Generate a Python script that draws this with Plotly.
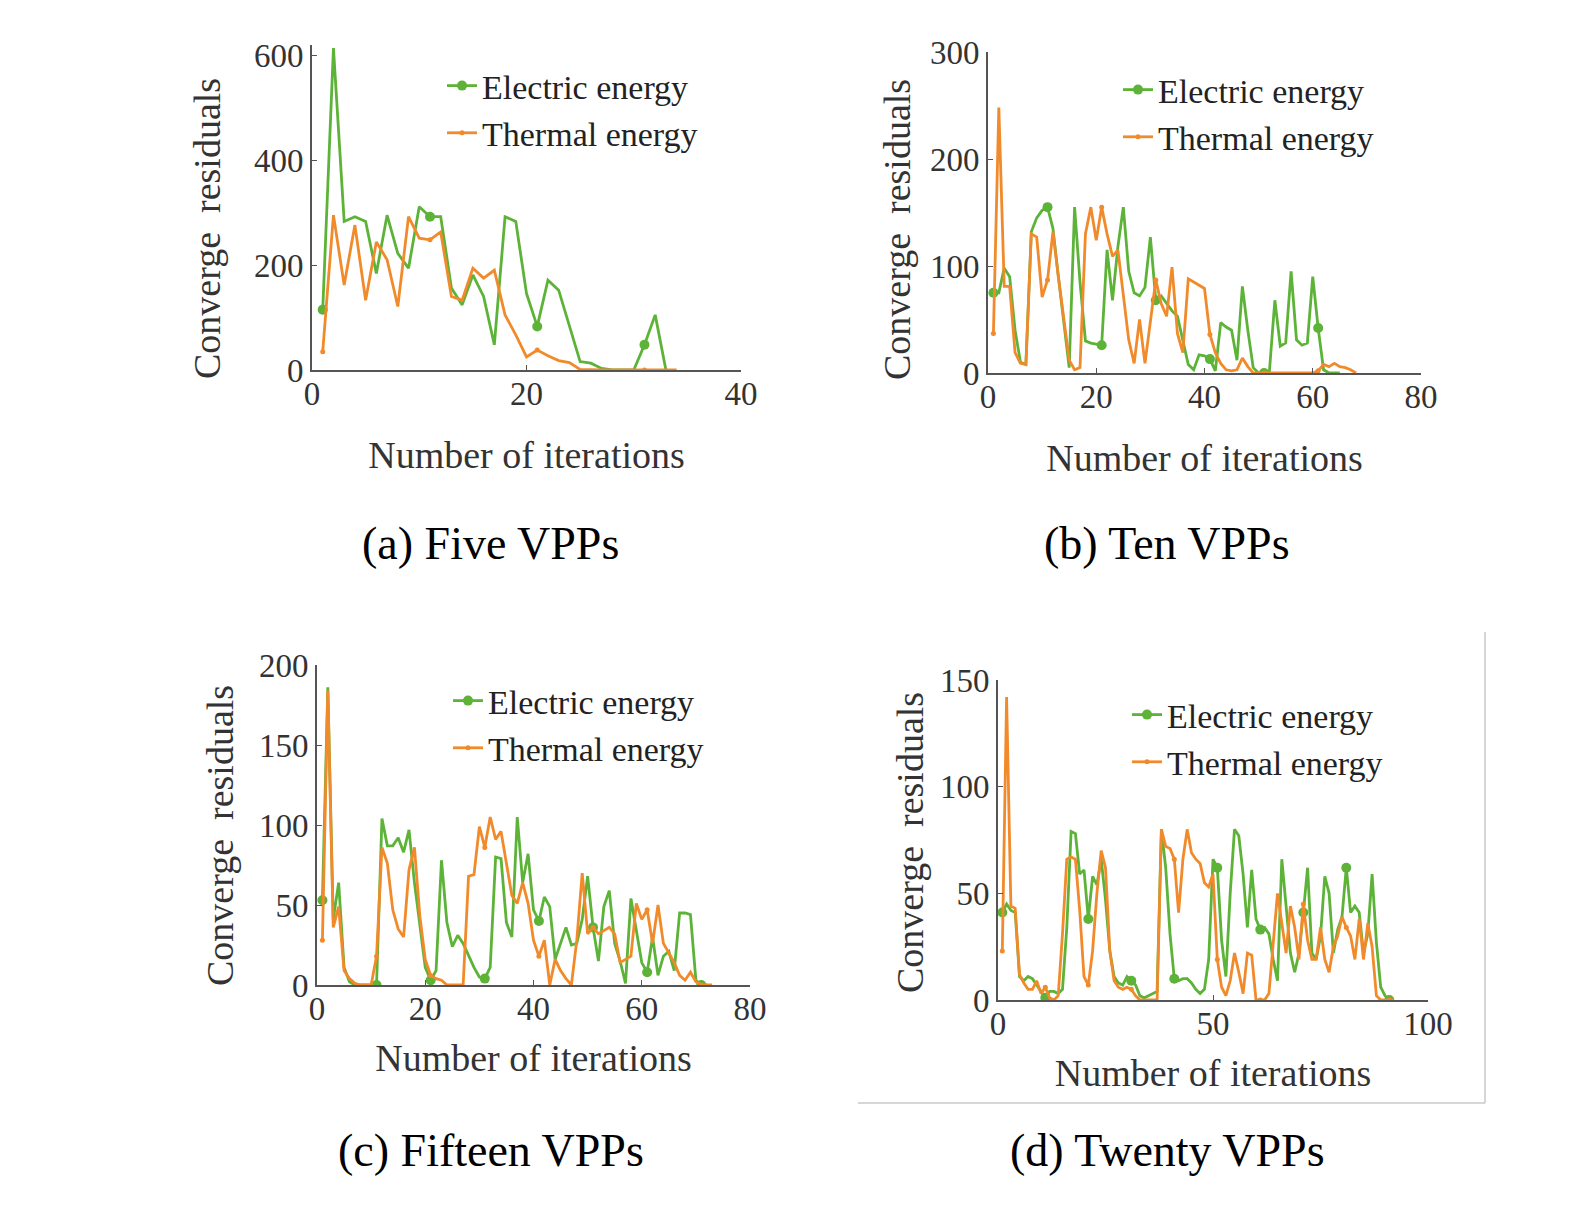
import plotly.graph_objects as go

W, H = 1569, 1206
SERIF = "Liberation Serif"
GREEN = "#5cb338"
ORANGE = "#f18a2b"

# (a) Five VPPs - residual per iteration (iteration numbers start at 1)
elec_a = [115, 613, 283, 292, 283, 184, 295, 222, 194, 311, 292, 292, 156, 124, 181,
          140, 48, 292, 283, 146, 83, 171, 152, 83, 16, 13, 3, 0, 0, 0, 48, 105, 0]
therm_a = [35, 295, 162, 276, 133, 244, 210, 121, 292, 251, 248, 263, 140, 133, 194,
           175, 190, 105, 67, 25, 38, 27, 18, 14, 1, 0, 0, 0, 0, 0, 0, 0, 0, 0]

# (b) Ten VPPs
elec_b = [75, 75, 98, 90, 40, 10, 8, 132, 145, 152, 155, 135, 90, 45, 5, 155, 85, 30, 28, 27,
          26, 115, 68, 118, 155, 95, 75, 72, 80, 127, 68, 72, 65, 58, 53, 30, 8, 3, 17, 16,
          13, 2, 47, 43, 40, 12, 81, 40, 5, 0, 0, 2, 68, 25, 28, 95, 31, 26, 28, 90,
          42, 3, 0, 0, 0]
therm_b = [37, 248, 81, 81, 19, 9, 8, 130, 127, 71, 87, 132, 90, 50, 12, 3, 5, 130, 155, 124,
           155, 130, 109, 115, 75, 31, 9, 50, 9, 50, 87, 65, 53, 99, 37, 19, 88, 85, 82, 79,
           36, 19, 9, 3, 2, 3, 14, 6, 0, 0, 0, 0, 0, 0, 0, 0, 0, 0, 0, 0,
           2, 8, 6, 9, 6, 5, 3, 0]

# (c) Fifteen VPPs
elec_c = [53, 186, 41, 64, 11, 2, 0, 0, 0, 0, 0, 104, 87, 87, 92, 83, 97, 64, 36, 11,
          3, 9, 78, 39, 24, 31, 26, 18, 11, 5, 4, 11, 80, 79, 39, 30, 105, 64, 82, 47,
          40, 55, 49, 16, 26, 36, 25, 26, 41, 68, 36, 15, 49, 59, 26, 15, 1, 54, 34, 14,
          8, 30, 6, 18, 21, 9, 45, 45, 44, 3, 0, 0]
therm_c = [28, 184, 36, 49, 9, 4, 1, 0, 0, 0, 18, 86, 76, 47, 35, 30, 72, 86, 43, 16,
           6, 4, 3, 0, 0, 0, 0, 68, 69, 99, 86, 105, 91, 96, 76, 56, 51, 64, 51, 28,
           18, 28, 0, 16, 9, 4, 0, 28, 70, 32, 36, 32, 34, 36, 32, 14, 16, 18, 51, 41,
           47, 26, 50, 26, 20, 14, 6, 3, 8, 2, 0, 0, 0]

# (d) Twenty VPPs
elec_d = [41, 45, 42, 41, 11, 9, 11, 10, 7, 4, 1, 4, 4, 3, 5, 34, 79, 78, 59, 61,
          38, 58, 54, 66, 47, 23, 11, 8, 7, 11, 9, 7, 2, 1, 2, 3, 4, 80, 62, 31,
          10, 9, 10, 10, 8, 5, 3, 5, 19, 66, 62, 28, 11, 50, 80, 77, 59, 34, 61, 38,
          33, 34, 31, 19, 9, 66, 42, 22, 13, 22, 41, 62, 22, 19, 30, 58, 50, 22, 33, 39,
          62, 41, 44, 41, 22, 31, 59, 27, 6, 2, 0, 0]
therm_d = [23, 142, 44, 43, 12, 8, 5, 5, 9, 3, 6, 1, 0, 2, 31, 66, 67, 66, 42, 11,
           7, 23, 50, 70, 62, 23, 9, 6, 5, 6, 5, 2, 0, 0, 0, 0, 0, 80, 72, 71,
           66, 41, 66, 80, 69, 66, 64, 55, 53, 59, 19, 6, 2, 9, 22, 13, 3, 22, 21, 0,
           0, 0, 3, 28, 50, 36, 22, 44, 34, 19, 45, 28, 19, 19, 34, 19, 13, 25, 30, 39,
           34, 30, 19, 38, 19, 36, 25, 2, 0, 0, 0, 0]

series_names = ["Electric energy", "Thermal energy"]
captions = ["(a) Five VPPs", "(b) Ten VPPs", "(c) Fifteen VPPs", "(d) Twenty VPPs"]
y_title = "Converge\u00a0 residuals"
x_ticks = [[0, 20, 40], [0, 20, 40, 60, 80], [0, 20, 40, 60, 80], [0, 50, 100]]
y_ticks = [[0, 200, 400, 600], [0, 100, 200, 300], [0, 50, 100, 150, 200], [0, 50, 100, 150]]
x_ranges = [[0, 40], [0, 80], [0, 80], [0, 100]]
y_ranges = [[0, 620], [0, 300], [0, 200], [0, 150]]

# pixel placement of each panel: plot box (x0, x1, y_bottom, y_top), legend corner,
# caption centre, y-title centre, x title standoff
panels = [
    dict(e=elec_a, t=therm_a, box=(312, 741, 370, 44.5), leg=(442, 57), cap=(490, 544),
         yt=(207, 229), xs=31),
    dict(e=elec_b, t=therm_b, box=(988, 1421, 373, 52), leg=(1118, 61), cap=(1167, 544),
         yt=(897, 230), xs=31),
    dict(e=elec_c, t=therm_c, box=(317, 750, 985, 665), leg=(448, 672), cap=(491, 1150),
         yt=(220, 836), xs=19),
    dict(e=elec_d, t=therm_d, box=(998, 1428, 1000, 680), leg=(1127, 686), cap=(1167, 1150),
         yt=(910, 842), xs=19),
]


def fx(p):
    return p / W


def fy(p):
    return 1 - p / H


fig = go.Figure()
layout = dict(
    width=W, height=H, margin=dict(l=0, r=0, t=0, b=0),
    paper_bgcolor="white", plot_bgcolor="white",
    font=dict(family=SERIF, color="#333333"),
    annotations=[], shapes=[],
)

axis_style = dict(showline=True, linecolor="#555555", linewidth=2, ticks="inside",
                  ticklen=5, tickcolor="#555555", showgrid=False, zeroline=False,
                  automargin=False,
                  tickfont=dict(family=SERIF, size=33, color="#333333"))

for i, p in enumerate(panels):
    sfx = "" if i == 0 else str(i + 1)
    leg = "legend" if i == 0 else "legend" + str(i + 1)
    for name, vals, color, msize, lw in [(series_names[0], p["e"], GREEN, 10, 2.8),
                                         (series_names[1], p["t"], ORANGE, 5, 2.8)]:
        it = list(range(1, len(vals) + 1))
        # markers only every tenth iteration, like the MATLAB MarkerIndices
        mcol = [color if (k - 1) % 10 == 0 else "rgba(0,0,0,0)" for k in it]
        fig.add_trace(go.Scatter(
            x=it, y=vals, mode="lines+markers", name=name,
            line=dict(color=color, width=lw),
            marker=dict(size=msize, color=mcol),
            xaxis="x" + sfx, yaxis="y" + sfx, legend=leg,
        ))

    x0, x1, yb, yt = p["box"]
    layout["xaxis" + sfx] = dict(
        axis_style, domain=[fx(x0), fx(x1)], range=x_ranges[i], tickvals=x_ticks[i],
        anchor="y" + sfx, ticklabelstandoff=-7,
        title=dict(text="Number of iterations", standoff=p["xs"],
                   font=dict(family=SERIF, size=38, color="#333333")),
    )
    layout["yaxis" + sfx] = dict(
        axis_style, domain=[fy(yb), fy(yt)], range=y_ranges[i], tickvals=y_ticks[i],
        anchor="x" + sfx,
    )
    tx, ty = p["yt"]
    layout["annotations"].append(dict(
        text=y_title, x=fx(tx), y=fy(ty), xref="paper", yref="paper", textangle=-90,
        xanchor="center", yanchor="middle", showarrow=False,
        font=dict(family=SERIF, size=38, color="#333333"),
    ))
    lx, ly = p["leg"]
    layout[leg] = dict(
        x=fx(lx), y=fy(ly), xanchor="left", yanchor="top",
        bgcolor="rgba(0,0,0,0)", borderwidth=0,
        font=dict(family=SERIF, size=34, color="#222222"),
        itemsizing="trace",
    )
    cx, cy = p["cap"]
    layout["annotations"].append(dict(
        text=captions[i], x=fx(cx), y=fy(cy), xref="paper", yref="paper",
        xanchor="center", yanchor="middle", showarrow=False,
        font=dict(family=SERIF, size=46, color="black"),
    ))

# thin frame around the last panel (cropped screenshot edge)
layout["shapes"] += [
    dict(type="line", xref="paper", yref="paper", x0=fx(858), x1=fx(1485), y0=fy(1103), y1=fy(1103),
         line=dict(color="#c8c8c8", width=1.5)),
    dict(type="line", xref="paper", yref="paper", x0=fx(1485), x1=fx(1485), y0=fy(632), y1=fy(1103),
         line=dict(color="#c8c8c8", width=1.5)),
]

layout["showlegend"] = True
fig.update_layout(**layout)
# drop the default 8px page margin so the figure sits at the window origin
fig.write_html("out.html", config={"displayModeBar": False},
               post_script="document.body.style.margin='0px';")
